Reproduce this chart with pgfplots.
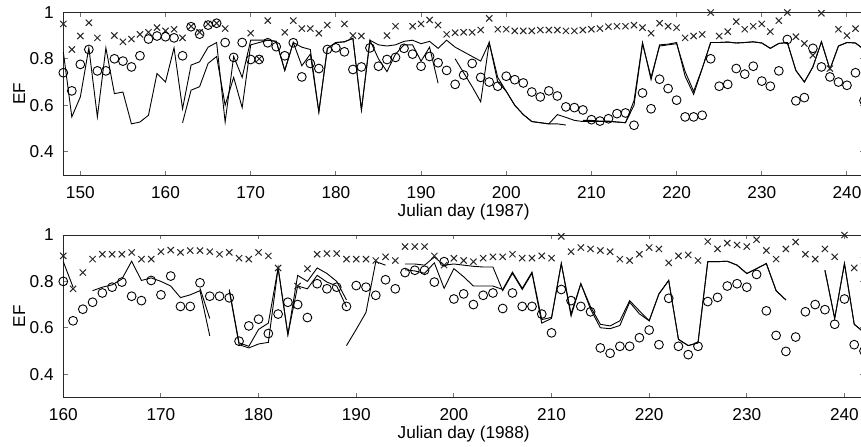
\documentclass[border=0pt]{standalone}
\usepackage{fontspec}
\setmainfont{Liberation Sans}
\usepackage{pgfplots}
\usepackage{pgfplotstable}
\pgfplotsset{compat=1.18}

% day, crosses, circles, two model lines (nan = gap)
\pgfplotstableread{
day cross circ lineA lineB
148 0.95 0.74 0.83 nan
149 0.84 0.662 0.55 nan
150 0.898 0.776 0.636 nan
151 0.955 0.84 0.847 nan
152 0.89 0.748 0.55 nan
153 nan 0.748 0.847 nan
154 0.90 0.80 0.65 nan
155 0.873 0.79 0.657 nan
156 0.885 0.765 0.52 nan
157 0.905 0.813 0.528 nan
158 0.914 0.885 0.557 nan
159 0.934 0.898 0.737 nan
160 0.92 0.895 0.70 nan
161 0.927 0.89 0.847 nan
162 0.89 0.813 0.585 0.525
163 0.94 0.938 0.773 0.665
164 0.914 0.906 0.787 0.68
165 0.95 0.945 0.85 0.78
166 0.953 0.953 0.87 0.81
167 0.93 0.87 0.528 0.60
168 nan 0.806 0.81 0.72
169 nan 0.87 0.72 0.59
170 0.91 0.797 0.88 0.86
171 0.80 0.797 0.88 0.87
172 0.964 0.869 0.88 0.88
173 nan 0.852 0.875 0.875
174 0.914 0.813 0.75 0.75
175 0.964 0.869 0.87 0.87
176 0.93 0.722 0.85 0.77
177 0.93 0.78 0.84 0.82
178 0.91 0.758 0.571 0.571
179 0.945 0.84 0.845 0.845
180 nan 0.847 0.87 0.87
181 0.95 0.83 0.873 0.873
182 0.90 0.754 0.888 0.888
183 0.898 0.765 0.58 0.58
184 nan 0.847 0.88 0.88
185 nan 0.768 0.86 0.80
186 0.90 0.797 0.855 0.745
187 0.94 0.806 0.86 0.82
188 nan 0.845 0.875 0.86
189 0.94 0.82 0.88 0.86
190 0.95 0.768 0.865 0.79
191 0.967 0.81 0.875 0.85
192 0.945 0.783 0.845 0.695
193 0.905 0.75 0.88 nan
194 0.912 0.69 0.85 0.80
195 0.914 0.73 0.83 0.74
196 0.914 0.78 0.81 0.68
197 0.924 0.72 0.79 0.615
198 0.974 0.70 0.87 0.87
199 0.927 0.682 0.72 0.70
200 0.927 0.725 0.66 0.66
201 0.92 0.71 0.60 0.60
202 0.92 0.696 0.56 0.56
203 0.92 0.657 0.53 0.53
204 0.924 0.636 0.525 0.525
205 0.924 0.662 0.52 0.52
206 0.924 0.64 0.52 0.56
207 0.92 0.593 0.515 0.548
208 0.92 0.59 nan 0.535
209 0.924 0.58 0.535 0.53
210 0.927 0.538 0.535 0.53
211 0.93 0.532 0.532 0.53
212 0.938 0.542 0.532 0.53
213 0.94 0.564 0.528 0.528
214 0.94 0.567 0.525 0.525
215 0.945 0.514 0.62 0.60
216 0.934 0.653 0.87 0.865
217 0.91 0.585 0.71 0.72
218 0.953 0.712 0.86 0.855
219 0.94 0.672 0.863 0.86
220 0.934 0.622 0.87 0.865
221 0.89 0.55 0.725 0.745
222 0.898 0.55 0.647 0.66
223 0.905 0.557 0.758 0.758
224 0.999 0.80 0.87 0.87
225 0.898 0.682 0.87 0.87
226 0.917 0.69 0.872 0.872
227 0.96 0.758 0.868 0.868
228 0.927 0.734 0.87 0.87
229 0.94 0.768 0.873 0.873
230 0.95 0.704 0.868 0.868
231 0.917 0.682 0.845 0.845
232 0.964 0.748 0.866 0.866
233 0.999 0.883 0.87 0.87
234 0.895 0.619 0.75 0.75
235 0.866 0.633 0.70 0.70
236 0.815 0.845 0.765 0.765
237 0.996 0.765 0.873 0.873
238 0.758 0.722 0.754 0.754
239 0.927 0.70 0.855 0.855
240 0.90 0.686 0.87 0.87
241 0.93 0.74 0.868 0.868
242 nan 0.62 0.84 0.84
}\topdata

\pgfplotstableread{
day cross circ lineA lineB lineC
160 0.91 0.80 0.885 nan nan
161 0.768 0.63 0.775 nan nan
162 0.838 0.68 nan nan nan
163 0.896 0.71 0.76 nan nan
164 0.917 0.75 0.775 nan nan
165 0.917 0.775 0.785 nan nan
166 0.917 0.797 0.81 nan nan
167 0.925 0.736 0.887 nan nan
168 0.896 0.717 0.804 nan nan
169 0.896 0.804 0.815 nan nan
170 0.928 0.742 0.80 nan nan
171 0.935 0.823 0.78 nan nan
172 0.925 0.692 0.73 nan nan
173 0.933 0.692 0.742 nan nan
174 0.933 0.794 0.76 0.77 nan
175 0.928 0.736 0.565 0.64 nan
176 0.917 0.736 nan nan nan
177 0.925 0.729 0.76 0.765 nan
178 0.90 0.542 0.527 0.535 nan
179 0.896 0.608 0.513 0.52 nan
180 0.925 0.637 0.53 0.593 nan
181 0.91 0.575 0.537 0.62 nan
182 0.858 0.659 0.858 0.858 nan
183 nan 0.71 0.57 0.57 nan
184 0.78 0.70 0.826 0.78 nan
185 0.855 0.644 0.80 0.768 nan
186 0.917 0.79 0.858 0.826 nan
187 0.92 0.768 0.834 0.797 nan
188 0.92 0.775 0.80 0.78 nan
189 0.896 0.692 0.72 0.69 0.523
190 0.896 0.782 nan nan 0.593
191 0.896 0.775 nan nan 0.666
192 0.89 0.74 nan nan 0.885
193 0.906 0.807 nan nan 0.87
194 0.89 0.768 nan nan nan
195 0.95 0.838 0.85 0.875 nan
196 0.95 0.848 0.845 0.875 nan
197 0.95 0.848 0.835 0.87 nan
198 0.91 0.797 0.88 0.905 nan
199 0.87 0.885 0.77 0.87 nan
200 0.90 0.724 0.855 0.875 nan
201 0.89 0.746 0.82 0.87 nan
202 0.885 0.70 0.78 0.865 nan
203 0.90 0.74 0.78 0.862 nan
204 0.906 0.75 0.78 0.862 nan
205 0.906 0.683 0.765 0.76 nan
206 0.917 0.75 0.84 0.835 nan
207 0.90 0.692 0.77 0.765 nan
208 0.90 0.692 0.84 0.835 nan
209 0.91 0.659 0.635 0.62 nan
210 0.90 0.578 0.645 0.64 nan
211 0.994 0.765 0.877 0.877 nan
212 0.928 0.717 0.65 0.66 nan
213 0.946 0.692 0.79 0.79 nan
214 0.94 0.669 0.69 0.68 nan
215 0.933 0.513 0.615 0.60 nan
216 0.928 0.49 0.608 0.596 nan
217 0.896 0.52 0.63 0.61 nan
218 0.89 0.52 0.717 0.71 nan
219 0.917 0.557 0.673 0.66 nan
220 0.946 0.59 0.63 0.63 nan
221 0.94 0.527 0.746 0.746 nan
222 0.88 0.727 0.804 0.804 nan
223 0.91 0.52 0.55 0.55 nan
224 0.914 0.484 0.523 0.523 nan
225 0.89 0.52 0.535 0.535 nan
226 0.972 0.713 0.885 0.885 nan
227 0.94 0.731 0.885 0.885 nan
228 0.965 0.78 0.887 0.887 nan
229 0.957 0.79 0.87 0.87 nan
230 0.95 0.775 0.834 0.834 nan
231 0.98 0.83 0.855 0.855 nan
232 0.933 0.673 0.877 0.877 nan
233 0.896 0.567 0.76 0.76 nan
234 0.94 0.498 0.72 0.72 nan
235 0.97 0.56 nan nan nan
236 0.917 0.669 nan nan nan
237 0.896 0.70 nan nan nan
238 0.94 0.678 0.848 0.848 nan
239 0.906 0.615 0.64 0.64 nan
240 1.0 0.724 0.877 0.877 nan
241 0.858 0.527 0.615 0.615 nan
242 0.89 0.50 0.58 0.58 nan
}\botdata

\pgfplotsset{
  efpanel/.style={
    scale only axis, width=400.35pt,
    xmax=242, ymin=0.3, ymax=1,
    ytick={0.4,0.6,0.8,1},
    tick align=inside, xtick pos=both, ytick pos=both,
    major tick length=2.2pt,
    axis line style={black!85, line width=0.5pt},
    tick style={black!55, line width=0.5pt},
    /pgf/number format/assume math mode=true,
    ticklabel style={font=\fontsize{8.6}{10}\selectfont},
    label style={font=\fontsize{8.6}{10}\selectfont},
    xticklabel style={yshift=-2.3pt},
    yticklabel style={xshift=-1.3pt},
    ylabel={EF},
    ylabel style={at={(axis description cs:0,0.5)}, anchor=center, yshift=22pt},
    xlabel style={at={(axis description cs:0.5,0)}, anchor=center, yshift=-18.5pt},
    unbounded coords=jump, clip=false,
  },
  crossmk/.style={only marks, mark=x, mark size=2.2pt, black!85, line width=0.5pt},
  circmk/.style={only marks, mark=o, mark size=2.2pt, black, line width=0.45pt},
  efline/.style={black, line width=0.45pt, mark=none},
}

\begin{document}
\begin{tikzpicture}
\useasboundingbox (0,0) rectangle (430.5pt,223pt);

\begin{axis}[efpanel, at={(31.65pt,135.5pt)}, anchor=south west, height=81.35pt,
  xmin=148, xtick={150,160,...,240}, xlabel={Julian day (1987)}]
\addplot[efline] table[x=day,y=lineA]{\topdata};
\addplot[efline] table[x=day,y=lineB]{\topdata};
\addplot[crossmk] table[x=day,y=cross]{\topdata};
\addplot[circmk] table[x=day,y=circ]{\topdata};
\end{axis}

\begin{axis}[efpanel, at={(31.65pt,24.35pt)}, anchor=south west, height=81.15pt,
  xmin=160, xtick={160,170,...,240}, xlabel={Julian day (1988)}]
\addplot[efline] table[x=day,y=lineA]{\botdata};
\addplot[efline] table[x=day,y=lineB]{\botdata};
\addplot[efline] table[x=day,y=lineC]{\botdata};
\addplot[crossmk] table[x=day,y=cross]{\botdata};
\addplot[circmk] table[x=day,y=circ]{\botdata};
\end{axis}
\end{tikzpicture}
\end{document}
